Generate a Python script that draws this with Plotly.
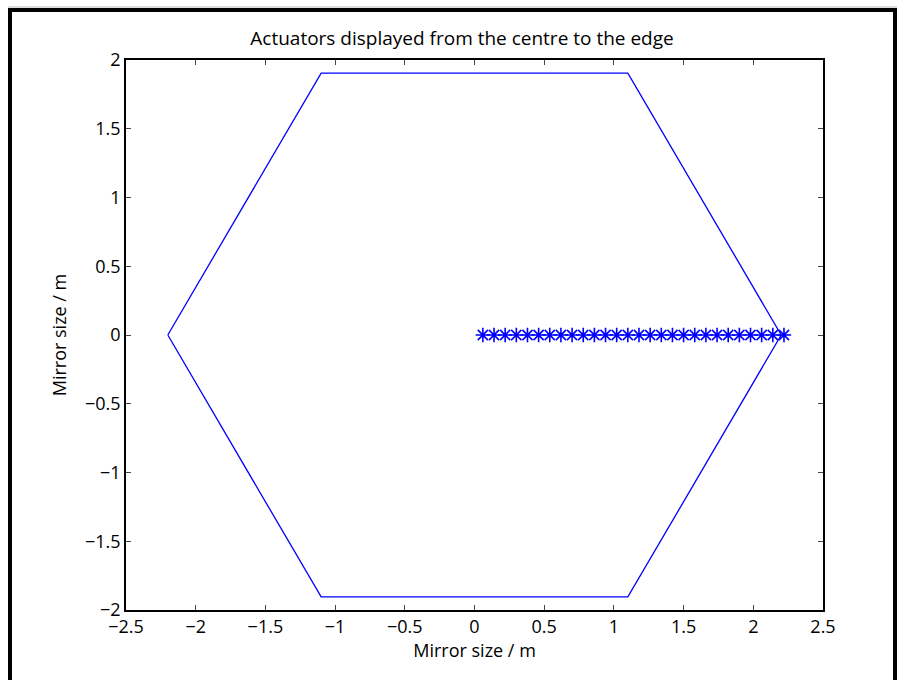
import plotly.graph_objects as go

# Hexagonal mirror outline (closed polygon), metres
hex_x = [-2.2, -1.1, 1.1, 2.2, 1.1, -1.1, -2.2]
hex_y = [0.0, 1.905, 1.905, 0.0, -1.905, -1.905, 0.0]

# Actuator positions along the radius, from the centre to the edge
act_x = [0.06, 0.14, 0.22, 0.30, 0.38, 0.46, 0.54, 0.62, 0.70, 0.78,
         0.86, 0.94, 1.02, 1.10, 1.18, 1.26, 1.34, 1.42, 1.50, 1.58,
         1.66, 1.74, 1.82, 1.90, 1.98, 2.06, 2.14, 2.22]
act_y = [0.0] * len(act_x)

x_ticks = [-2.5, -2, -1.5, -1, -0.5, 0, 0.5, 1, 1.5, 2, 2.5]
y_ticks = [-2, -1.5, -1, -0.5, 0, 0.5, 1, 1.5, 2]

W, H = 897, 680
L, R, T, B = 126, 74, 60, 70
PW, PH = W - L - R, H - T - B
FONT = "Open Sans"
FS = 18
BLUE = "#0000ff"


def px(x):
    return (x - L) / PW


def py(y):
    return (H - B - y) / PH


fig = go.Figure()
fig.add_trace(go.Scatter(x=hex_x, y=hex_y, mode="lines",
                         line=dict(color=BLUE, width=1.3),
                         hoverinfo="skip", showlegend=False))
fig.add_trace(go.Scatter(x=act_x, y=act_y, mode="markers",
                         marker=dict(symbol="asterisk-open", size=12,
                                     color=BLUE,
                                     line=dict(color=BLUE, width=1.6)),
                         showlegend=False))

axis_common = dict(
    showgrid=False, zeroline=False, showline=True, linecolor="black",
    linewidth=1.5, mirror="allticks", ticks="inside", ticklen=5,
    tickcolor="#444", tickwidth=1,
    tickfont=dict(family=FONT, size=FS, color="black"),
)
fig.update_xaxes(range=[-2.5, 2.5], tickvals=x_ticks,
                 ticktext=[f"{v:g}".replace("-", "\u2212") for v in x_ticks],
                 title=dict(text="Mirror size / m", standoff=0,
                            font=dict(family=FONT, size=FS, color="black")),
                 **axis_common)
fig.update_yaxes(range=[-2, 2], tickvals=y_ticks,
                 ticktext=[f"{v:g}".replace("-", "\u2212") for v in y_ticks],
                 title=dict(text="Mirror size / m", standoff=14,
                            font=dict(family=FONT, size=FS, color="black")),
                 **axis_common)

# Outer figure frame
shapes = [
    dict(type="line", xref="paper", yref="paper", x0=px(8), x1=px(W),
         y0=py(7), y1=py(7), line=dict(color="#bbbbbb", width=1)),
    dict(type="line", xref="paper", yref="paper", x0=px(8), x1=px(W),
         y0=py(10), y1=py(10), line=dict(color="black", width=4)),
    dict(type="line", xref="paper", yref="paper", x0=px(10), x1=px(10),
         y0=py(8), y1=py(H + 5), line=dict(color="black", width=4)),
    dict(type="line", xref="paper", yref="paper", x0=px(895), x1=px(895),
         y0=py(8), y1=py(H + 5), line=dict(color="black", width=4)),
]

fig.update_layout(
    width=W, height=H,
    margin=dict(l=L, r=R, t=T, b=B),
    paper_bgcolor="white", plot_bgcolor="white",
    title=dict(text="Actuators displayed from the centre to the edge",
               x=462 / W, xanchor="center",
               y=1 - 38 / H, yanchor="middle",
               font=dict(family=FONT, size=19, color="black")),
    shapes=shapes,
)

fig.write_html("out.html")
